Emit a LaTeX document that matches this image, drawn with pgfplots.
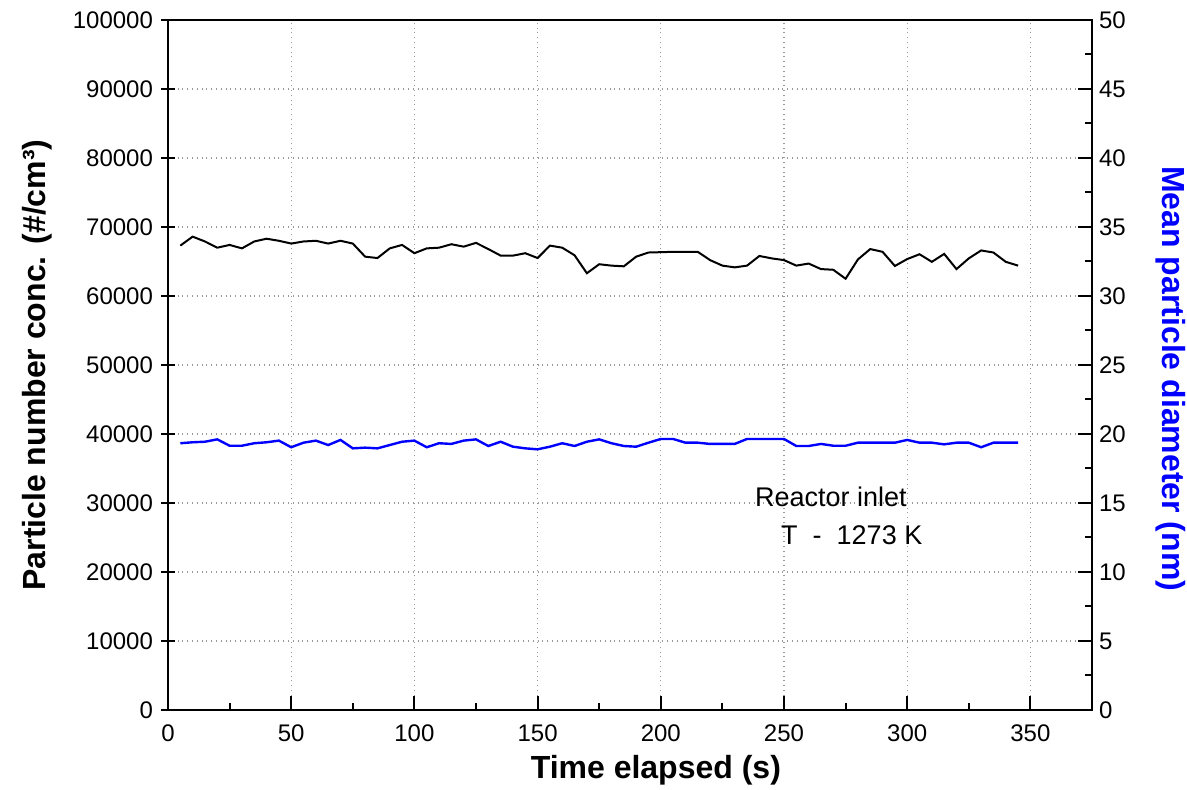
\documentclass[border=0pt]{standalone}
\usepackage{fontspec}
\setmainfont{Liberation Sans}
\usepackage{pgfplots}
\pgfplotsset{compat=1.18}
\pgfplotstableread{
t n
5 67300
10 68600
15 67900
20 67000
25 67400
30 66900
35 67900
40 68300
45 68000
50 67600
55 67900
60 68000
65 67600
70 68000
75 67600
80 65700
85 65500
90 66900
95 67400
100 66200
105 66900
110 67000
115 67500
120 67150
125 67700
130 66800
135 65850
140 65850
145 66200
150 65500
155 67300
160 67000
165 65900
170 63300
175 64600
180 64400
185 64300
190 65700
195 66300
200 66350
205 66400
210 66400
215 66400
220 65200
225 64400
230 64150
235 64400
240 65800
245 65450
250 65200
255 64400
260 64700
265 63900
270 63800
275 62500
280 65300
285 66800
290 66400
295 64350
300 65350
305 66050
310 64950
315 66100
320 63900
325 65450
330 66600
335 66300
340 64950
345 64400
}\conc
\pgfplotstableread{
t d
5 19.33
10 19.40
15 19.44
20 19.61
25 19.15
30 19.15
35 19.33
40 19.40
45 19.52
50 19.04
55 19.37
60 19.52
65 19.20
70 19.57
75 18.96
80 19.01
85 18.96
90 19.20
95 19.44
100 19.52
105 19.04
110 19.33
115 19.28
120 19.52
125 19.61
130 19.13
135 19.44
140 19.08
145 18.96
150 18.89
155 19.08
160 19.33
165 19.13
170 19.44
175 19.61
180 19.33
185 19.13
190 19.08
195 19.37
200 19.64
205 19.64
210 19.37
215 19.37
220 19.28
225 19.28
230 19.28
235 19.64
240 19.64
245 19.64
250 19.64
255 19.13
260 19.13
265 19.28
270 19.15
275 19.15
280 19.37
285 19.37
290 19.37
295 19.37
300 19.57
305 19.37
310 19.37
315 19.25
320 19.37
325 19.37
330 19.04
335 19.37
340 19.37
345 19.37
}\diam
\begin{document}
\begin{tikzpicture}
\useasboundingbox (-84pt,-40pt) rectangle (509.5pt,355pt);
\pgfplotsset{
  common/.style={
    scale only axis, width=462pt, height=345pt,
    xmin=0, xmax=375,
    tick align=inside,
    major tick length=7pt, minor tick length=3.5pt,
    every tick/.style={black, line width=1pt},
    axis line style={black, line width=1pt},
    tick label style={font=\fontsize{12}{14}\selectfont},
    /pgf/number format/assume math mode=true,
  }
}
\begin{axis}[common,
  ymin=0, ymax=100000,
  xtick={0,50,...,350}, minor x tick num=1,
  ytick={0,10000,...,100000},
  xtick pos=bottom, ytick pos=left,
  scaled y ticks=false,
  yticklabel style={/pgf/number format/fixed, /pgf/number format/1000 sep={}, xshift=-4pt},
  xticklabel style={yshift=-4pt},
  y tick style={xshift=-3.5pt},
  xmajorgrids, ymajorgrids,
  major grid style={dotted, gray!80, line width=0.6pt},
  xlabel={Time elapsed (s)},
  ylabel={Particle number conc. (\#/cm³)},
  every axis x label/.style={at={(axis description cs:0.528,-0.087)}, anchor=center, font=\fontsize{16}{19}\selectfont\bfseries},
  every axis y label/.style={at={(axis description cs:-0.142,0.5)}, anchor=center, rotate=90, font=\fontsize{16}{19}\selectfont\bfseries},
]
\addplot[black, line width=1pt] table[x=t, y=n] {\conc};
\node[font=\fontsize{13.5}{16}\selectfont] at (axis cs:269,30870) {Reactor inlet};
\node[font=\fontsize{13.5}{16}\selectfont] at (axis cs:277.5,25360) {T\ \ -\ \ 1273\ K};
\end{axis}
\begin{axis}[common,
  ymin=0, ymax=50,
  axis x line=none,
  axis y line*=right,
  ytick={0,5,...,50}, minor y tick num=1,
  ylabel={Mean particle diameter (nm)},
  every axis y label/.style={at={(axis description cs:1.085,0.48)}, anchor=center, rotate=-90, text=blue, font=\fontsize{16}{19}\selectfont\bfseries},
]
\addplot[blue, line width=1.2pt] table[x=t, y=d] {\diam};
\end{axis}
\end{tikzpicture}
\end{document}
